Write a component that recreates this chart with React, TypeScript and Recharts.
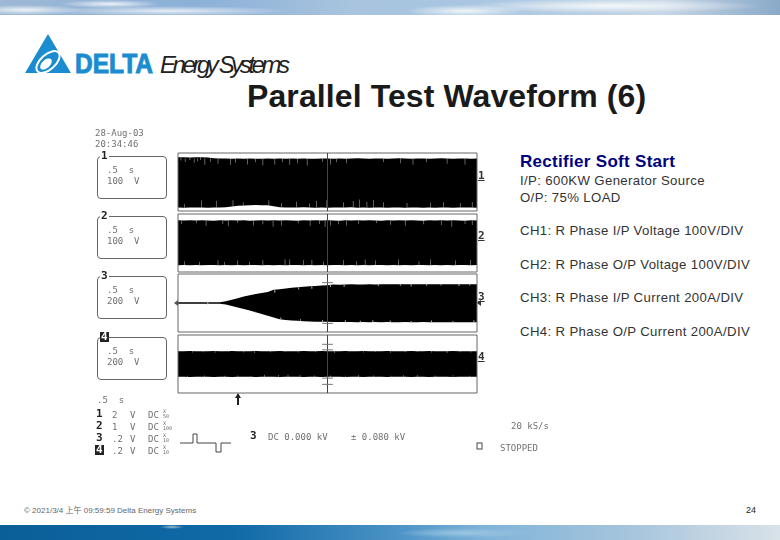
import React from "react";
import { Area, Bar, ComposedChart, ReferenceArea, ReferenceLine, XAxis, YAxis } from "recharts";

// time base of the scope: 0.5 s/div, 10 divisions
const sampleTimes = Array.from({ length: 51 }, (_, i) => i / 10);

// envelope edges, one value per 0.1 s
const ch1Top = [358,360,356,358,360,356,345,342,340,338,340,336,340,338,335,340,337,340,336,340,338,340,335,338,340,342,338,340,336,340,343,340,338,340,342,338,340,343,340,338,342,340,338,340,343,340,338,342,340,338,340];
const ch1Bottom = [-370,-372,-370,-368,-370,-372,-370,-368,-366,-355,-345,-340,-335,-332,-335,-338,-350,-365,-370,-368,-370,-366,-370,-372,-370,-372,-370,-368,-370,-366,-372,-370,-372,-370,-368,-372,-370,-368,-372,-370,-368,-372,-370,-372,-370,-368,-372,-370,-368,-370,-372];
const ch2Top = [328,325,330,326,328,325,323,328,326,330,325,328,323,326,328,325,330,326,328,325,323,328,326,330,325,328,326,323,328,325,330,326,328,325,323,328,326,330,325,328,326,323,328,325,330,326,328,325,323,328,326];
const ch2Bottom = [-322,-320,-324,-320,-322,-320,-318,-322,-320,-324,-320,-322,-318,-320,-322,-320,-324,-320,-322,-320,-318,-322,-320,-324,-320,-322,-320,-318,-322,-320,-324,-320,-322,-320,-318,-322,-320,-324,-320,-322,-320,-318,-322,-320,-324,-320,-322,-320,-318,-322,-320];
const ch3Top = [20,20,20,22,20,20,20,22,50,95,140,185,225,260,290,320,385,400,420,440,455,470,485,495,505,515,533,530,535,540,535,538,540,536,540,545,540,543,540,545,541,545,540,545,542,545,540,545,542,545,545];
const ch3Bottom = [-20,-20,-20,-22,-20,-20,-20,-22,-45,-90,-130,-175,-220,-270,-320,-370,-420,-470,-490,-505,-515,-525,-535,-540,-543,-545,-548,-550,-552,-550,-555,-552,-555,-550,-555,-552,-556,-555,-552,-558,-555,-552,-556,-558,-555,-560,-556,-558,-560,-556,-560];
const ch4Top = [372,370,374,372,370,372,374,370,372,374,372,370,372,374,372,370,372,374,370,372,372,374,370,372,374,372,370,372,374,372,370,374,372,370,372,374,372,370,372,374,370,372,374,372,370,372,374,372,370,372,372];
const ch4Bottom = [-372,-370,-374,-372,-370,-372,-374,-370,-372,-374,-372,-370,-372,-374,-372,-370,-372,-374,-370,-372,-372,-374,-370,-372,-374,-372,-370,-372,-374,-372,-370,-374,-372,-370,-372,-374,-372,-370,-372,-374,-370,-372,-374,-372,-370,-372,-374,-372,-370,-372,-372];

// light ticks inside the black trace: [time, low, high]
const ch1Ticks = [
  [0.05,310,360],[0.12,290,345],[0.2,320,360],[0.27,280,340],[0.33,300,345],[0.38,320,360],
  [0.45,250,345],[0.54,290,345],[0.67,265,345],[0.88,250,345],[0.96,280,345],[1.16,255,345],[1.3,285,345],[1.42,240,345],[1.62,255,345],[1.75,285,345],[1.87,250,345],[2.0,270,345],[2.16,240,345],[2.42,290,345],[2.55,255,345],[2.65,285,345],[2.82,270,345],[3.44,290,345],[3.72,270,345],[3.93,250,345],[4.16,285,345],[4.5,265,345],[4.8,250,345],
  [0.11,-372,-320],[0.39,-372,-265],[0.64,-372,-270],[0.92,-355,-265],[1.09,-340,-295],[1.52,-340,-265],[1.73,-368,-305],[1.98,-372,-285],[2.2,-372,-310],[2.32,-372,-275],[2.49,-372,-265],[2.77,-372,-295],[2.93,-372,-275],[3.04,-372,-255],[3.16,-372,-285],[3.27,-372,-260],[3.44,-372,-295],[3.83,-372,-305],[4.22,-372,-300],[4.44,-372,-295],[4.72,-372,-305],[4.92,-372,-290],
];
const ch2Ticks = [
  [0.06,275,330],[0.31,285,330],[0.47,250,330],[0.75,275,330],[0.84,245,330],[1.0,290,330],[1.26,255,330],[1.42,270,330],[1.59,235,330],[1.73,250,330],[2.01,285,330],[2.21,250,330],[2.37,275,330],[2.46,230,330],[2.55,255,330],[2.68,270,330],[2.82,255,330],[3.02,280,330],[3.32,290,330],[3.55,265,330],[3.8,250,330],[4.11,270,330],[4.41,260,330],[4.58,235,330],[4.8,275,330],[4.92,260,330],
  [0.11,-322,-265],[0.36,-322,-270],[0.67,-322,-250],[0.78,-322,-275],[1.0,-322,-255],[1.2,-322,-270],[1.42,-322,-250],[1.79,-322,-235],[1.87,-322,-240],[2.1,-322,-250],[2.24,-322,-245],[2.43,-322,-270],[2.77,-322,-250],[2.99,-322,-265],[3.13,-322,-240],[3.3,-322,-255],[3.69,-322,-240],[4.03,-322,-265],[4.22,-322,-240],[4.64,-322,-255],[4.89,-322,-245],
];
const ch3Ticks = [
  [0.5,-45,45],[1.62,300,385],[2.02,390,455],[2.24,410,485],[2.55,460,533],[2.78,470,535],[3.35,490,540],[3.72,500,545],[3.9,485,540],[4.16,500,545],[4.4,510,545],[4.7,495,545],[4.88,505,545],
  [1.3,-290,-255],[1.72,-470,-420],[2.05,-515,-470],[2.42,-545,-490],[2.8,-552,-500],[3.05,-555,-515],[3.26,-552,-500],[3.55,-555,-510],[3.9,-558,-520],[4.24,-558,-505],[4.6,-560,-520],[4.95,-560,-500],
];
const ch4Ticks = [
  [0.24,330,374],[0.42,340,374],[0.62,325,374],[0.85,345,374],[1.1,330,374],[1.28,320,374],[1.55,340,374],[1.79,345,374],[2.02,330,374],[2.3,340,374],[2.62,320,374],[2.86,340,374],[3.1,330,374],[3.3,345,374],[3.55,325,374],[3.8,340,374],[4.0,345,374],[4.24,330,374],[4.5,320,374],[4.72,340,374],[4.9,330,374],
  [0.16,-374,-340],[0.44,-374,-335],[0.78,-374,-340],[1.0,-374,-330],[1.22,-374,-345],[1.45,-374,-310],[1.68,-374,-320],[1.84,-374,-305],[2.04,-374,-320],[2.28,-374,-335],[2.55,-374,-330],[2.8,-374,-340],[3.02,-374,-320],[3.27,-374,-330],[3.56,-374,-340],[3.77,-374,-325],[4.0,-374,-315],[4.3,-374,-335],[4.6,-374,-325],[4.88,-374,-340],
];

const timeScale = ".5  s";
const legendRows = [
  ["1", "2", "V", "DC", "X\n50"],
  ["2", "1", "V", "DC", "X\n100"],
  ["3", ".2", "V", "DC", "X\n10"],
  ["4", ".2", "V", "DC", "X\n10"],
];
const notes = [
  "CH1: R Phase I/P Voltage 100V/DIV",
  "CH2: R Phase O/P Voltage 100V/DIV",
  "CH3: R Phase I/P Current 200A/DIV",
  "CH4: R Phase O/P Current 200A/DIV",
];

const buildRows = (top: number[], bottom: number[], ticks: number[][]) => {
  const rows: any[] = sampleTimes.map((t, i) => ({ t, trace: [bottom[i], top[i]] }));
  ticks.forEach(([t, low, high]) => rows.push({ t, tick: [low, high] }));
  return rows.sort((a, b) => a.t - b.t);
};

const Trace = ({ top, left, height, limit, upper, lower, ticks, marks = [] }: any) => (
  <div style={{ position: "absolute", left, top }}>
    <ComposedChart
      width={301}
      height={height}
      data={buildRows(upper, lower, ticks)}
      margin={{ top: 1, right: 1, bottom: 1, left: 1 }}
    >
      <XAxis type="number" dataKey="t" domain={[0, 5]} hide />
      <YAxis type="number" domain={[-limit, limit]} hide />
      <Area
        dataKey="trace"
        type="linear"
        connectNulls
        stroke="none"
        fill="#000000"
        fillOpacity={1}
        dot={false}
        activeDot={false}
        isAnimationActive={false}
      />
      <Bar dataKey="tick" barSize={1} fill="#b4b4b4" isAnimationActive={false} />
      <ReferenceArea x1={0} x2={5} y1={-limit} y2={limit} fill="none" stroke="#666666" strokeWidth={1} ifOverflow="visible" />
      <ReferenceLine x={2.5} stroke="#444444" strokeWidth={1} />
      {marks.map((y: number) => (
        <ReferenceLine
          key={y}
          segment={[{ x: 2.41, y }, { x: 2.59, y }]}
          stroke="#777777"
          strokeWidth={1}
        />
      ))}
    </ComposedChart>
  </div>
);

const scopeText: React.CSSProperties = {
  position: "absolute",
  fontFamily: "'DejaVu Sans Mono', monospace",
  fontSize: 9,
  color: "#707070",
  whiteSpace: "pre",
  lineHeight: "10px",
  filter: "blur(0.3px)",
};

const scopeNumber: React.CSSProperties = {
  ...scopeText,
  fontSize: 11,
  fontWeight: 700,
  color: "#222222",
  padding: "0 1px",
};

const InfoBox = ({ top, num, volts, inverted }: { top: number; num: string; volts: string; inverted?: boolean }) => (
  <>
    <div style={{ position: "absolute", left: 97, top, width: 70, height: 43, border: "1px solid #666666", borderRadius: 4, boxSizing: "border-box" }} />
    <div style={{ ...scopeNumber, left: 100, top: top - 5, background: inverted ? "#222222" : "#ffffff", color: inverted ? "#ffffff" : "#222222" }}>{num}</div>
    <div style={{ ...scopeText, left: 107, top: top + 9 }}>{timeScale}</div>
    <div style={{ ...scopeText, left: 107, top: top + 20 }}>{volts}</div>
  </>
);

const sideText: React.CSSProperties = {
  position: "absolute",
  left: 520,
  fontFamily: "'Liberation Sans', Arial, sans-serif",
  fontSize: 13.2,
  letterSpacing: 0.36,
  color: "#333333",
  whiteSpace: "nowrap",
  lineHeight: "16px",
};

export default function App() {
  return (
    <div style={{ position: "absolute", left: 0, top: 0, width: 780, height: 540, background: "#ffffff", overflow: "hidden" }}>
      {/* header and footer strips */}
      <div
        style={{
          position: "absolute",
          left: 0,
          top: 0,
          width: 780,
          height: 15,
          background:
            "radial-gradient(ellipse 60px 5px at 25px 10px,#eef3f7,transparent)," +
            "radial-gradient(ellipse 50px 4px at 110px 4px,#eef3f8,transparent)," +
            "radial-gradient(ellipse 120px 5px at 170px 11px,#e6eef5,transparent)," +
            "radial-gradient(ellipse 60px 6px at 465px 11px,#f2f6f9,transparent)," +
            "radial-gradient(ellipse 150px 7px at 610px 6px,#f5f8fa,transparent)," +
            "linear-gradient(90deg,#9db8d4 0%,#8cb0d8 25%,#a8c4de 45%,#a9c6e2 62%,#c7d7e6 85%,#8aa9c9 100%)",
        }}
      />
      <div
        style={{
          position: "absolute",
          left: 0,
          top: 525,
          width: 780,
          height: 15,
          background:
            "radial-gradient(ellipse 12px 2px at 172px 2px,#9fbdd3,transparent)," +
            "radial-gradient(ellipse 70px 5px at 465px 8px,#9cc6e2,transparent)," +
            "linear-gradient(90deg,#0b5f98 0%,#0f6aa6 30%,#4f95c8 52%,#7fb3d9 62%,#a9c6dd 82%,#d9e2e8 100%)",
        }}
      />

      {/* logo */}
      <svg style={{ position: "absolute", left: 0, top: 0 }} width={320} height={85}>
        <path d="M48 34 L71 73 L25 73 Z" fill="#1a8ccf" />
        <ellipse cx={48} cy={62} rx={14} ry={7.5} fill="none" stroke="#ffffff" strokeWidth={2} transform="rotate(-42 48 62)" />
        <ellipse cx={46} cy={64} rx={7} ry={4} fill="#ffffff" transform="rotate(-42 46 64)" />
        <text x={75} y={73} fontFamily="'Liberation Sans'" fontWeight={700} fontSize={28} fill="#1a8ccf" stroke="#1a8ccf" strokeWidth={1} textLength={78} lengthAdjust="spacingAndGlyphs">DELTA</text>
        <text x={160} y={73} fontFamily="'Liberation Sans'" fontStyle="italic" fontSize={24} fill="#222222" textLength={130} lengthAdjust="spacing">Energy Systems</text>
      </svg>

      <div style={{ position: "absolute", left: 247, top: 78, fontFamily: "'Liberation Sans', Arial, sans-serif", fontWeight: 700, fontSize: 32, letterSpacing: 0.1, color: "#1a1a1a", whiteSpace: "nowrap", lineHeight: "36px" }}>
        Parallel Test Waveform (6)
      </div>

      {/* scope header */}
      <div style={{ ...scopeText, left: 95, top: 128 }}>28-Aug-03</div>
      <div style={{ ...scopeText, left: 95, top: 139 }}>20:34:46</div>

      <InfoBox top={156} num="1" volts="100  V" />
      <InfoBox top={216} num="2" volts="100  V" />
      <InfoBox top={276} num="3" volts="200  V" />
      <InfoBox top={337} num="4" volts="200  V" inverted />

      <Trace left={177} top={152} height={60} limit={420} upper={ch1Top} lower={ch1Bottom} ticks={ch1Ticks} />
      <Trace left={177} top={213} height={60} limit={420} upper={ch2Top} lower={ch2Bottom} ticks={ch2Ticks} />
      <Trace left={177} top={273} height={60} limit={840} upper={ch3Top} lower={ch3Bottom} ticks={ch3Ticks} marks={[590, -590]} />
      <Trace left={177} top={334} height={60} limit={840} upper={ch4Top} lower={ch4Bottom} ticks={ch4Ticks} marks={[570, 410, -410, -590]} />

      {/* channel labels at the right of the traces */}
      {[["1", 171], ["2", 231], ["3", 292], ["4", 352]].map(([n, y]) => (
        <div key={n} style={{ ...scopeText, left: 478, top: y as number, fontSize: 11, fontWeight: 700, color: "#333333", textDecoration: "underline" }}>{n}</div>
      ))}

      {/* trigger markers */}
      <svg style={{ position: "absolute", left: 0, top: 0 }} width={780} height={540}>
        <path d="M238 393 L241 398 L239 398 L239 405 L237 405 L237 398 L235 398 Z" fill="#222222" />
        <path d="M174 303 L178 300 L178 306 Z" fill="#555555" />
        <path d="M477 303 L481 300 L481 306 Z" fill="#333333" />
        <polyline points="180,443 193,443 193,434 197,434 197,443 216,443 216,452 221,452 221,443 231,443" fill="none" stroke="#444444" strokeWidth={1} />
        <rect x={477} y={443} width={5} height={6} fill="none" stroke="#444444" strokeWidth={1} />
      </svg>

      {/* scope footer */}
      <div style={{ ...scopeText, left: 97, top: 395 }}>{timeScale}</div>
      {legendRows.map(([n, v, u, c, probe], i) => (
        <React.Fragment key={n}>
          <div style={{ ...scopeNumber, left: 95, top: 409 + i * 12, background: n === "4" ? "#222222" : "transparent", color: n === "4" ? "#ffffff" : "#222222" }}>{n}</div>
          <div style={{ ...scopeText, left: 112, top: 410 + i * 12 }}>{v}</div>
          <div style={{ ...scopeText, left: 130, top: 410 + i * 12 }}>{u}</div>
          <div style={{ ...scopeText, left: 148, top: 410 + i * 12 }}>{c}</div>
          <div style={{ ...scopeText, left: 163, top: 409 + i * 12, fontSize: 5, lineHeight: "5px" }}>{probe}</div>
        </React.Fragment>
      ))}
      <div style={{ ...scopeNumber, left: 249, top: 431 }}>3</div>
      <div style={{ ...scopeText, left: 268, top: 432 }}>DC 0.000 kV</div>
      <div style={{ ...scopeText, left: 351, top: 432 }}>± 0.080 kV</div>
      <div style={{ ...scopeText, left: 511, top: 421 }}>20 kS/s</div>
      <div style={{ ...scopeText, left: 500, top: 443 }}>STOPPED</div>

      {/* right hand notes */}
      <div style={{ position: "absolute", left: 520, top: 153, fontFamily: "'Liberation Sans', Arial, sans-serif", fontWeight: 700, fontSize: 17, letterSpacing: 0.3, color: "#000080", whiteSpace: "nowrap", lineHeight: "18px" }}>Rectifier Soft Start</div>
      <div style={{ ...sideText, top: 173 }}>I/P: 600KW Generator Source</div>
      <div style={{ ...sideText, top: 190 }}>O/P: 75% LOAD</div>
      <div style={{ ...sideText, top: 223 }}>{notes[0]}</div>
      <div style={{ ...sideText, top: 257 }}>{notes[1]}</div>
      <div style={{ ...sideText, top: 290 }}>{notes[2]}</div>
      <div style={{ ...sideText, top: 324 }}>{notes[3]}</div>

      {/* page footer */}
      <div style={{ position: "absolute", left: 24, top: 505, fontFamily: "'Liberation Sans', 'Noto Sans CJK TC', sans-serif", fontSize: 8, color: "#666666", whiteSpace: "nowrap", lineHeight: "11px" }}>© 2021/3/4 上午 09:59:59 Delta Energy Systems</div>
      <div style={{ position: "absolute", left: 746, top: 505, fontFamily: "'Liberation Sans', sans-serif", fontSize: 9, color: "#222222", lineHeight: "11px" }}>24</div>
    </div>
  );
}
